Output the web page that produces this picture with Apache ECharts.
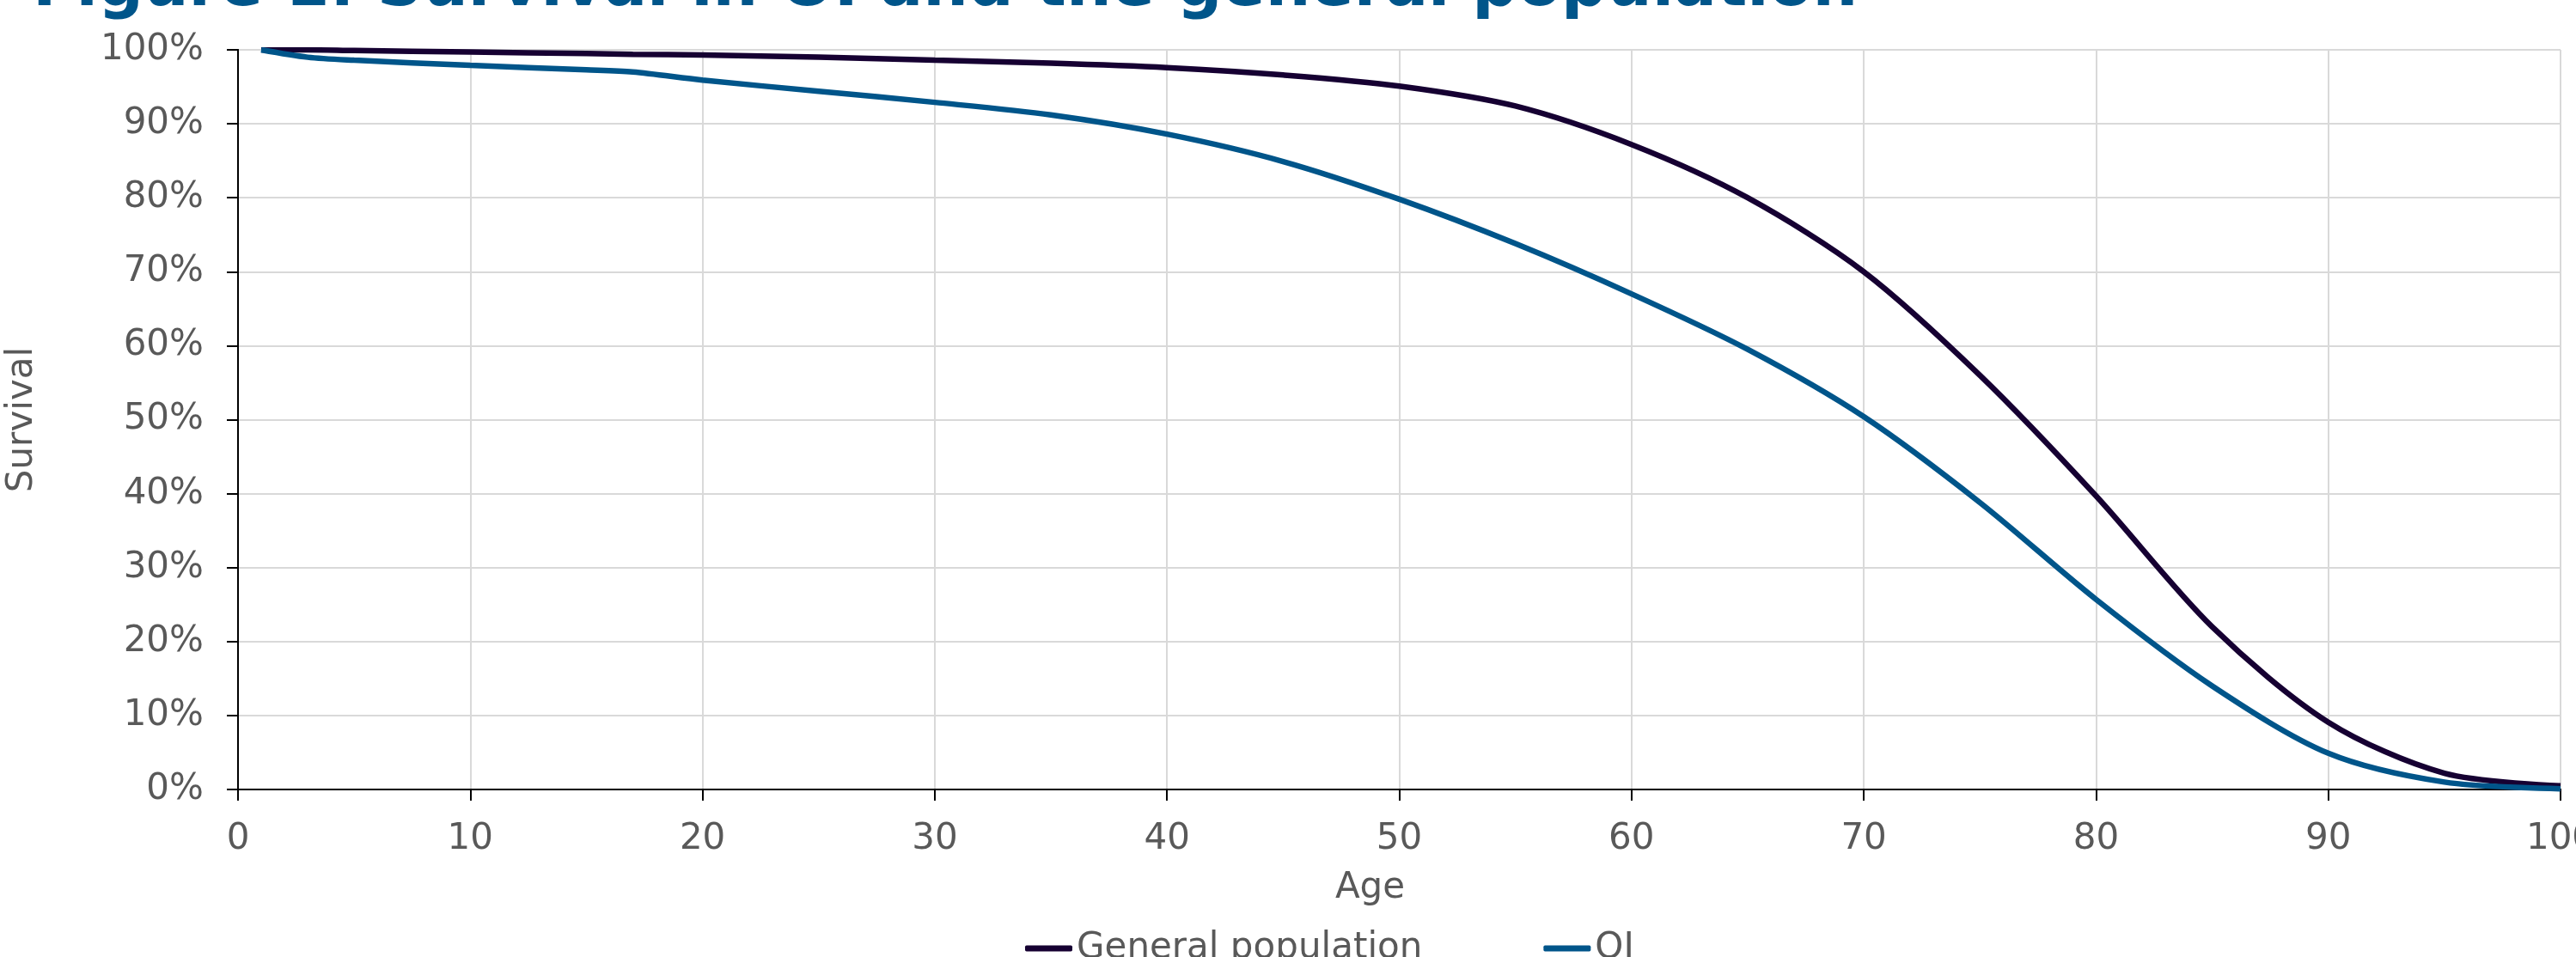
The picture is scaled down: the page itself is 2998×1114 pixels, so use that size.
<!DOCTYPE html>
<html lang="en">
<head>
    <meta charset="UTF-8">
    <title>Survival in OI and the general population</title>
    <script src="https://cdn.jsdelivr.net/npm/echarts@6/dist/echarts.min.js"></script>
    <style>
        body { margin: 0; background: #fff; }
    </style>
</head>
<body>
<div id="main" style="width: 2998px; height: 1114px;"></div>
<script type="text/javascript">
    // ages
    var ages = [1, 3, 5, 10, 15, 17, 20, 25, 30, 35, 40, 45, 50, 55, 60, 65, 70, 75, 80, 85, 90, 95, 100];
    // survival in %
    var generalPop = [100, 100, 99.9, 99.7, 99.5, 99.4, 99.3, 99.0, 98.6, 98.2, 97.6, 96.6, 95.1, 92.4, 87.2, 80.0, 70.0, 56.0, 39.7, 22.0, 9.1, 2.2, 0.5];
    var oi = [100, 99.0, 98.6, 97.9, 97.3, 97.0, 95.9, 94.4, 92.9, 91.2, 88.6, 84.9, 79.8, 73.8, 67.0, 59.5, 50.4, 38.8, 25.7, 14.0, 4.9, 1.0, 0.1];
    var seriesNames = ['General population', 'OI'];

    function pairs(xs, ys) {
        var out = [];
        for (var i = 0; i < xs.length; i++) {
            out.push([xs[i], ys[i]]);
        }
        return out;
    }

    var font = 'DejaVu Sans';
    var grey = '#595959';
    var frame = { show: true, lineStyle: { color: '#000', width: 2 } };

    var chart = echarts.init(document.getElementById('main'));
    chart.setOption({
        animation: false,
        graphic: [{
            type: 'text',
            left: 38,
            top: -50,
            style: {
                text: 'Figure 1: Survival in OI and the general population',
                font: 'bold 74px "DejaVu Sans"',
                fill: '#00558a'
            }
        }],
        grid: {
            left: 277,
            right: 18,
            top: 58,
            bottom: 195,
            outerBoundsMode: 'none'
        },
        legend: {
            left: 1188,
            top: 1078,
            itemWidth: 55,
            itemHeight: 7,
            itemGap: 141,
            icon: 'roundRect',
            textStyle: { fontFamily: font, fontSize: 42, color: grey },
            data: seriesNames
        },
        xAxis: [{
            type: 'value',
            min: 0,
            max: 100,
            interval: 10,
            name: 'Age',
            nameLocation: 'middle',
            nameGap: 94,
            nameTextStyle: { fontFamily: font, fontSize: 42, color: grey, padding: [0, 68, 0, 0] },
            axisLine: frame,
            axisTick: { show: true, length: 13, lineStyle: { color: '#000', width: 2 } },
            axisLabel: { fontFamily: font, fontSize: 42, color: grey, margin: 37 },
            splitLine: { lineStyle: { color: '#d9d9d9', width: 2 } }
        }, {
            type: 'value',
            position: 'top',
            min: 0,
            max: 100,
            axisLine: frame,
            axisTick: { show: false },
            axisLabel: { show: false },
            splitLine: { show: false }
        }],
        yAxis: [{
            type: 'value',
            min: 0,
            max: 100,
            interval: 10,
            name: 'Survival',
            nameLocation: 'middle',
            nameGap: 230,
            nameTextStyle: { fontFamily: font, fontSize: 42, color: grey },
            axisLine: frame,
            axisTick: { show: true, length: 13, lineStyle: { color: '#000', width: 2 } },
            axisLabel: { fontFamily: font, fontSize: 42, color: grey, margin: 40, formatter: '{value}%' },
            splitLine: { lineStyle: { color: '#d9d9d9', width: 2 } }
        }, {
            type: 'value',
            position: 'right',
            min: 0,
            max: 100,
            axisLine: frame,
            axisTick: { show: false },
            axisLabel: { show: false },
            splitLine: { show: false }
        }],
        series: [
            {
                name: seriesNames[0],
                type: 'line',
                smooth: 0.3,
                symbol: 'none',
                color: '#160032',
                lineStyle: { width: 6.5 },
                data: pairs(ages, generalPop)
            },
            {
                name: seriesNames[1],
                type: 'line',
                smooth: 0.3,
                symbol: 'none',
                color: '#00558a',
                lineStyle: { width: 6.5 },
                data: pairs(ages, oi)
            }
        ]
    });
</script>
</body>
</html>
